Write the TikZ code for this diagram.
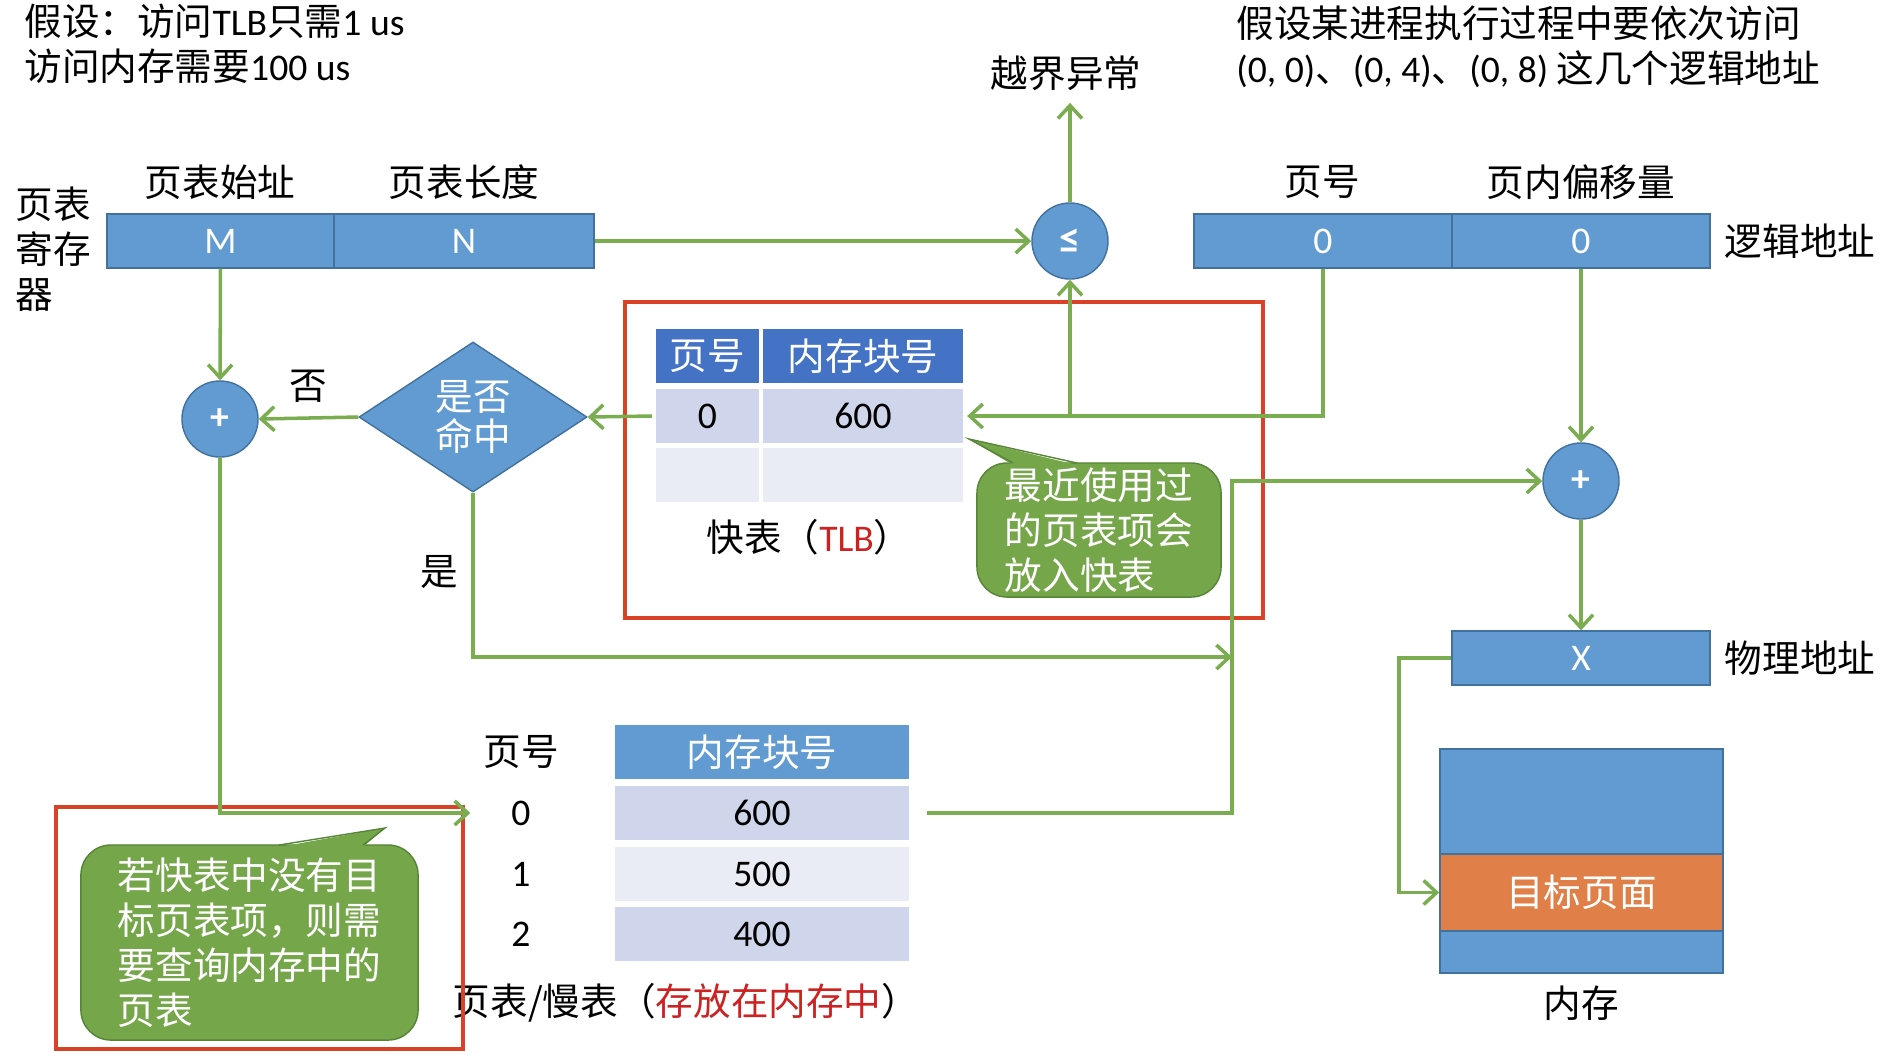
\documentclass[tikz,border=0pt]{standalone}
\usepackage{fontspec}
\setmainfont{Noto Sans CJK SC}
\newfontfamily\latinfont{Carlito}
\usepackage{xcolor}
\usetikzlibrary{arrows.meta,shapes.geometric}

\definecolor{boxblue}{RGB}{97,155,210}
\definecolor{boxedge}{RGB}{65,113,156}
\definecolor{headblue}{RGB}{68,114,196}
\definecolor{rowdark}{RGB}{207,213,234}
\definecolor{rowlight}{RGB}{233,235,245}
\definecolor{flowgreen}{RGB}{122,172,80}
\definecolor{notegreen}{RGB}{118,166,74}
\definecolor{noteedge}{RGB}{86,132,56}
\definecolor{framered}{RGB}{218,66,40}
\definecolor{pageorange}{RGB}{224,128,72}
\definecolor{textred}{RGB}{204,34,34}

\begin{document}
\begin{tikzpicture}[x=0.01cm, y=-0.01cm, font=\fontsize{10.7}{12.8}\selectfont,
  latin/.style={font=\fontsize{10.7}{12.8}\latinfont},
  field/.style={draw=boxedge, fill=boxblue, text=white, inner sep=0, minimum height=0.54cm, latin},
  op/.style={circle, draw=boxedge, fill=boxblue, text=white, inner sep=0, minimum size=0.76cm, font=\fontsize{10.7}{12.8}\latinfont\bfseries},
  decide/.style={diamond, draw=boxedge, fill=boxblue, text=white, inner sep=0, minimum width=2.28cm, minimum height=1.5cm, align=center, font=\fontsize{10.7}{11.6}\selectfont},
  cell/.style={draw=white, line width=1.2pt, inner sep=0, minimum height=0.59cm},
  memblk/.style={draw=boxedge, fill=boxblue, text=white, inner sep=0, minimum width=2.83cm},
  note/.style={draw=noteedge, fill=notegreen, text=white, rounded corners=0.3cm, align=left, inner sep=0},
  pnum/.style={minimum width=1.0cm, inner sep=0, latin},
  frame/.style={draw=framered, line width=1.2pt},
  flow/.style={draw=flowgreen, line width=1pt, -{Straight Barb[length=1.3mm,width=2.4mm]}}]
\useasboundingbox (0,0) rectangle (1900,1056);
% assumptions
\node[align=left, anchor=west] (cost) at (12,44) {假设：访问{\latinfont TLB}只需{\latinfont 1 us}\\访问内存需要{\latinfont 100 us}};
\node[align=left, anchor=west] (task) at (1224,47) {假设某进程执行过程中要依次访问\\{\latinfont (0, 0)}、{\latinfont (0, 4)}、{\latinfont (0, 8)} 这几个逻辑地址};
% page table register
\node[align=left, anchor=west] (reglbl) at (3,249) {页表\\寄存\\器};
\node (startlbl) at (220,182) {页表始址};
\node (lenlbl) at (464,182) {页表长度};
\node[field, minimum width=2.27cm] (regM) at (220.5,241) {M};
\node[field, minimum width=2.60cm] (regN) at (464,241) {N};
\node[op, font=\fontsize{12}{12}\latinfont\bfseries] (cmp) at (1070,241) {≤};
\node (exc) at (1066,73) {越界异常};
% logical address
\node (pagelbl) at (1322,182) {页号};
\node (offlbl) at (1581,182) {页内偏移量};
\node[field, minimum width=2.58cm] (lpage) at (1323,241) {0};
\node[field, minimum width=2.58cm] (loff) at (1581,241) {0};
\node (laddr) at (1800,241) {逻辑地址};
% TLB
\draw[frame] (625,302) rectangle (1263,618);
\node[cell, fill=headblue, text=white, minimum width=1.07cm] (tlbh1) at (707.5,356) {页号};
\node[cell, fill=headblue, text=white, minimum width=2.04cm] (tlbh2) at (863,356) {内存块号};
\node[cell, fill=rowdark, minimum width=1.07cm, latin] (tlb0) at (707.5,416) {0};
\node[cell, fill=rowdark, minimum width=2.04cm, latin] (tlb600) at (863,416) {600};
\node[cell, fill=rowlight, minimum width=1.07cm] (tlbe1) at (707.5,475) {};
\node[cell, fill=rowlight, minimum width=2.04cm] (tlbe2) at (863,475) {};
\node (tlbcap) at (809,537) {快表（\textcolor{textred}{\latinfont TLB}）};
\node[note, minimum width=2.44cm, minimum height=1.34cm] (tlbnote) at (1099,530) {最近使用过\\的页表项会\\放入快表};
\fill[notegreen] (1013,465) -- (969,439) -- (1077,465) -- cycle;
\draw[noteedge] (1013,463) -- (969,439) -- (1077,463);
% hit test
\node[decide] (hit) at (473,417) {是否\\命中};
\node[op] (sum1) at (220,419) {+};
\node (yeslbl) at (439,572) {是};
% page table in memory
\node (pthead) at (521,752) {页号};
\node[cell, fill=boxblue, text=white, minimum width=2.98cm] (pth) at (762,752) {内存块号};
\node[cell, fill=rowdark, minimum width=2.98cm, latin] (pt600) at (762,813) {600};
\node[cell, fill=rowlight, minimum width=2.98cm, latin] (pt500) at (762,874) {500};
\node[cell, fill=rowdark, minimum width=2.98cm, latin] (pt400) at (762,934) {400};
\node[pnum] (pn0) at (521,813) {0};
\node[pnum] (pn1) at (521,874) {1};
\node[pnum] (pn2) at (521,934) {2};
\node (ptcap) at (686,1003) {页表/慢表（\textcolor{textred}{存放在内存中}）};
\draw[frame] (56,807) rectangle (463,1049);
\node[note, minimum width=3.37cm, minimum height=1.95cm] (missnote) at (249.5,942.5) {若快表中没有目\\标页表项，则需\\要查询内存中的\\页表};
\fill[notegreen] (279,847) -- (385,828) -- (363,847) -- cycle;
\draw[noteedge] (279,845) -- (385,828) -- (363,845);
% physical address and memory
\node[op] (sum2) at (1581,481) {+};
\node[field, minimum width=2.58cm] (phys) at (1581,658) {X};
\node (paddr) at (1800,658) {物理地址};
\node[memblk, minimum height=1.05cm] (memtop) at (1581.5,801.5) {};
\node[memblk, fill=pageorange, minimum height=0.77cm] (target) at (1581.5,892.5) {目标页面};
\node[memblk, minimum height=0.42cm] (membot) at (1581.5,952) {};
\node (memlbl) at (1581,1003) {内存};
\coordinate (join) at (1232,481);
\coordinate (merge) at (1232,657);
% connectors
\draw[flow] (regM) -- (sum1);
\draw[flow] (regN) -- (cmp);
\draw[flow] (cmp.north) -- (cmp.north |- exc.south);
\draw[flow] (lpage.south) |- (tlb600.east);
\draw[flow] (cmp.south |- tlb600.east) -- (cmp.south);
\draw[flow] (tlb0.west) -- (hit.east);
\draw[flow] (hit.west) -- (sum1.east) node[midway, above=0.02cm] (nolbl) {否};
\draw[flow] (sum1.south) |- (pn0.west);
\draw[flow] (hit.south) |- (merge);
\draw[flow, shorten <=0.14cm] (pt600.east) -| (join) -- (sum2.west);
\draw[flow] (loff.south) -- (sum2.north);
\draw[flow] (sum2) -- (phys);
\draw[flow] (phys.west) -- ++(-0.52cm,0) |- (target.west);
\end{tikzpicture}
\end{document}
